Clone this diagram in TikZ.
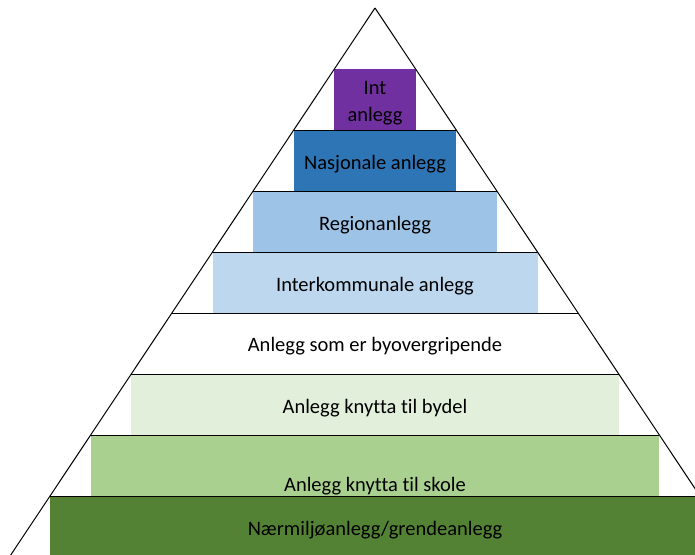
\documentclass[tikz,border=0pt]{standalone}
\usepackage{fontspec}
\setmainfont{Carlito}[Ligatures=CommonOff]
\definecolor{intfill}{HTML}{7030A0}
\definecolor{nasjfill}{HTML}{2E75B6}
\definecolor{regfill}{HTML}{9DC3E6}
\definecolor{interfill}{HTML}{BDD7EE}
\definecolor{bydelfill}{HTML}{E2EFDA}
\definecolor{skolefill}{HTML}{A9D08E}
\definecolor{naerfill}{HTML}{548235}
\begin{document}
\begin{tikzpicture}[x=1pt,y=-1pt,line width=1pt,font=\fontsize{20.5}{27.4}\selectfont]
\useasboundingbox (0,0) rectangle (695,554);
\clip (0,0) rectangle (695,554);
\fill[intfill] (334.4,69) rectangle (415.6,130);
\fill[nasjfill] (293.7,130) rectangle (456.3,191);
\fill[regfill] (253.1,191) rectangle (496.9,252);
\fill[interfill] (212.5,252) rectangle (537.5,313);
\fill[bydelfill] (131.2,374) rectangle (618.8,435);
\fill[skolefill] (90.6,435) rectangle (659.4,496);
\fill[naerfill] (50,496) rectangle (700,560);
\draw (375,8) -- (7.4,560);
\draw (375,8) -- (742.6,560);
\draw (293.7,130) -- (456.3,130);
\draw (253.1,191) -- (496.9,191);
\draw (212.5,252) -- (537.5,252);
\draw (171.8,313) -- (578.2,313);
\draw (131.2,374) -- (618.8,374);
\draw (90.6,435) -- (659.4,435);
\draw (50,496) -- (700,496);
\node[anchor=base,align=center] (int) at (375,121.7) {Int\\anlegg};
\node[anchor=base] (nasj) at (375,169.3) {Nasjonale anlegg};
\node[anchor=base] (reg) at (375,230) {Regionanlegg};
\node[anchor=base] (inter) at (375,291.7) {Interkommunale anlegg};
\node[anchor=base] (byover) at (375,351) {Anlegg som er byovergripende};
\node[anchor=base] (bydel) at (375,413.3) {Anlegg knytta til bydel};
\node[anchor=base] (skole) at (375,491.7) {Anlegg knytta til skole};
\node[anchor=base] (naer) at (375,535) {Nærmiljøanlegg/grendeanlegg};
\end{tikzpicture}
\end{document}
